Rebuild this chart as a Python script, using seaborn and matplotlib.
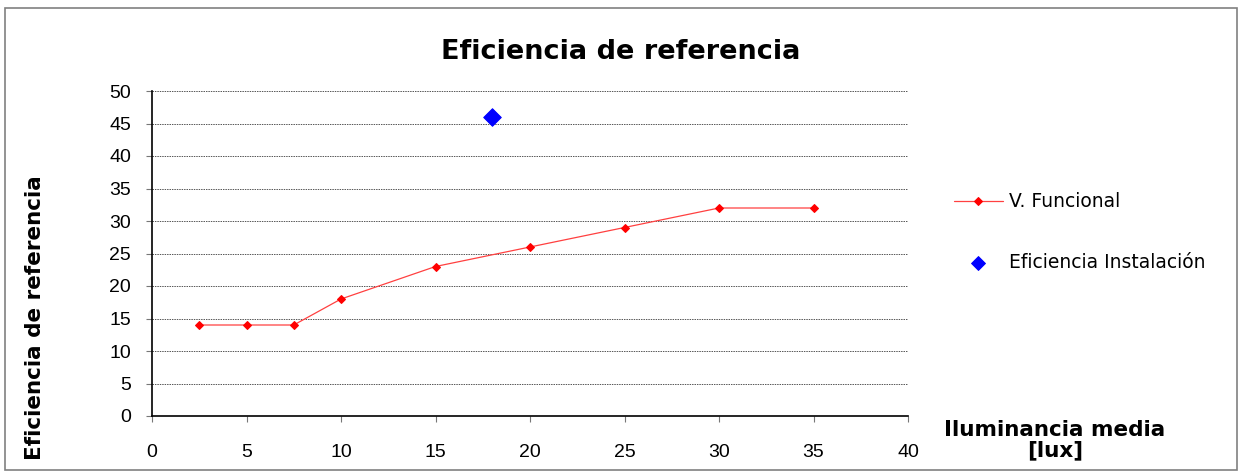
import matplotlib
matplotlib.use("Agg")
import matplotlib.pyplot as plt
import seaborn as sns
import pandas as pd
from matplotlib.patches import Rectangle

sns.set_theme(style="white")
plt.rcParams['font.family'] = ['DejaVu Sans']
plt.rcParams['text.color'] = 'black'

x_func = [2.5, 5, 7.5, 10, 15, 20, 25, 30, 35]
y_func = [14, 14, 14, 18, 23, 26, 29, 32, 32]
x_inst = [18]
y_inst = [46]
x_ticks = [0, 5, 10, 15, 20, 25, 30, 35, 40]
y_ticks = [0, 5, 10, 15, 20, 25, 30, 35, 40, 45, 50]

df_func = pd.DataFrame({"x": x_func, "y": y_func})
df_inst = pd.DataFrame({"x": x_inst, "y": y_inst})

fig = plt.figure(figsize=(12.41, 4.75), dpi=100)
fig.patch.set_facecolor("white")
fig.add_artist(Rectangle((5/1241, 1 - 470/475), 1232/1241, 462/475, transform=fig.transFigure,
                         fill=False, edgecolor="#808080", linewidth=1.2))
ax = fig.add_axes([152/1241, 1 - 416/475, 756/1241, 325/475])

sns.lineplot(data=df_func, x="x", y="y", ax=ax, color="#ff4040", linewidth=0.9,
             marker="D", markersize=4.5, markerfacecolor="red", markeredgecolor="red",
             label="V. Funcional")
sns.scatterplot(data=df_inst, x="x", y="y", ax=ax, color="blue", marker="D", s=80,
                edgecolor="blue", label="Eficiencia Instalación", zorder=5)

ax.set_xlim(0, 40)
ax.set_ylim(0, 50)
ax.set_xticks(x_ticks)
ax.set_yticks(y_ticks)
ax.tick_params(axis="both", labelsize=14, labelcolor="black", direction="out", length=4,
               width=0.8, color="#777777", bottom=True, left=True)
ax.tick_params(axis="x", pad=16)
ax.tick_params(axis="y", pad=11)
for lab in ax.get_xticklabels() + ax.get_yticklabels():
    lab.set_fontfamily("Liberation Sans")
for y in y_ticks[1:]:
    ax.axhline(y, color="#555555", linestyle=(0, (1.5, 1)), linewidth=0.7, zorder=0)
ax.grid(False)
for s in ["top", "right"]:
    ax.spines[s].set_visible(False)
for s in ["left", "bottom"]:
    ax.spines[s].set_color("black")
    ax.spines[s].set_linewidth(1.2)

ax.set_xlabel("")
ax.set_ylabel("")
fig.text(1055/1241, 1 - 440/475, "Iluminancia media\n[lux]", ha="center", va="center",
         fontsize=15.5, fontweight="bold", linespacing=1.05, color="black")
fig.text(35/1241, 1 - 318/475, "Eficiencia de referencia", ha="center", va="center",
         rotation=90, fontsize=15.5, fontweight="bold", color="black")
fig.text(621/1241, 1 - 52/475, "Eficiencia de referencia", ha="center", va="center",
         fontsize=19.5, fontweight="bold", color="black")

leg = ax.legend(loc="center left", bbox_to_anchor=(937/1241, 1 - 232/475),
                bbox_transform=fig.transFigure, frameon=False,
                prop={"family": "DejaVu Sans", "size": 13.5},
                labelspacing=2.2, handlelength=2.6, handletextpad=0.35)
for t in leg.get_texts():
    t.set_color("black")
leg.legend_handles[1].set_sizes([50])

fig.savefig("out.png", dpi=100, facecolor="white")
